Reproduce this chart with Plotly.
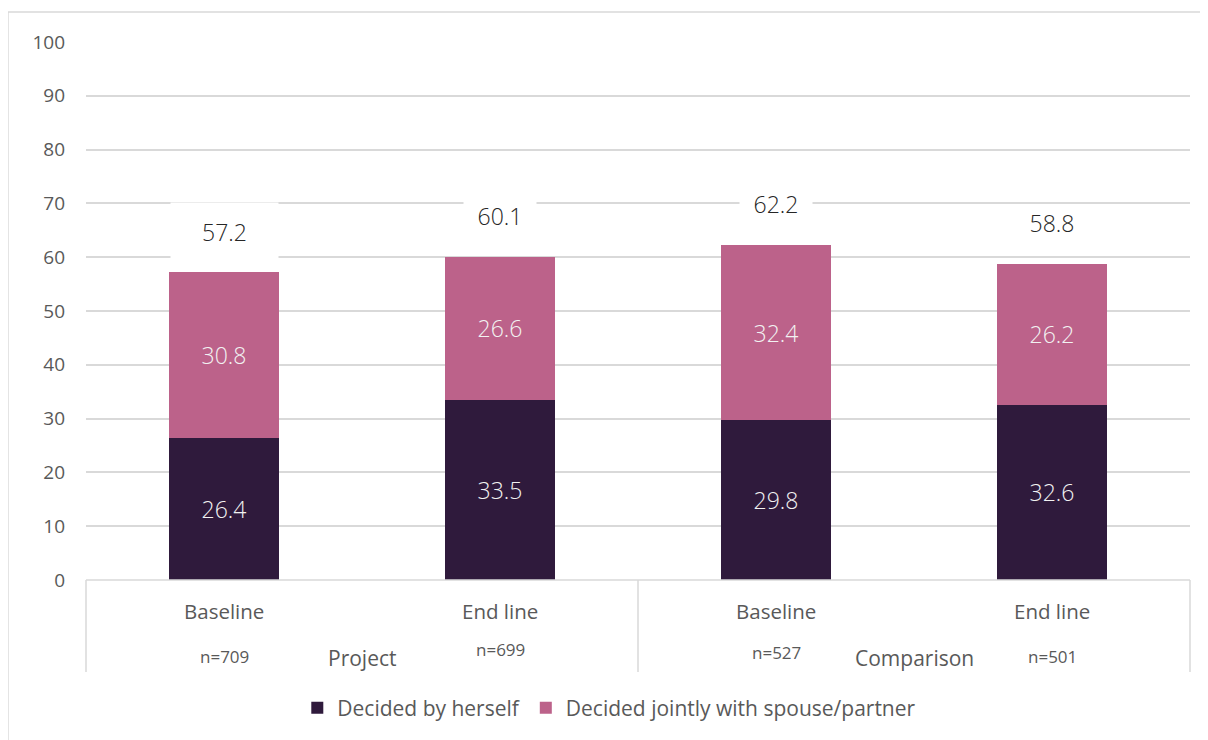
import plotly.graph_objects as go

# ---- data ----
groups = ["Project", "Comparison"]
categories = ["Baseline", "End line", "Baseline", "End line"]
n_labels = ["n=709", "n=699", "n=527", "n=501"]
decided_herself = [26.4, 33.5, 29.8, 32.6]
decided_jointly = [30.8, 26.6, 32.4, 26.2]
totals = [57.2, 60.1, 62.2, 58.8]
y_ticks = [0, 10, 20, 30, 40, 50, 60, 70, 80, 90, 100]

DARK = "#2F1A3C"
PINK = "#BC628A"
GRID = "#D9D9D9"
TXT = "#595959"
FONT = "Open Sans"

xpos = list(range(len(categories)))

fig = go.Figure()
fig.add_trace(go.Bar(
    x=xpos, y=decided_herself, name="Decided by herself",
    marker=dict(color=DARK, line=dict(width=0)),
    text=[f"{v:.1f}" for v in decided_herself], textposition="inside",
    insidetextanchor="middle",
    textfont=dict(family=FONT, size=23, color="#F2F2F2", weight=300),
    hoverinfo="skip",
))
fig.add_trace(go.Bar(
    x=xpos, y=decided_jointly, name="Decided jointly with spouse/partner",
    marker=dict(color=PINK, line=dict(width=0)),
    text=[f"{v:.1f}" for v in decided_jointly], textposition="inside",
    insidetextanchor="middle",
    textfont=dict(family=FONT, size=23, color="#F2F2F2", weight=300),
    hoverinfo="skip",
))

annotations = []
# totals above bars with white boxes
box_w = [105, 70, 70, 70]
box_h = [55, 30, 30, 30]
for i, t in enumerate(totals):
    annotations.append(dict(
        x=xpos[i], y=t, xref="x", yref="y", text=f"{t:.1f}", showarrow=False,
        yshift=41, font=dict(family=FONT, size=23, color="#262626", weight=300),
        bgcolor="white", width=box_w[i], height=box_h[i],
    ))
# category labels
n_y = [-0.1413, -0.130, -0.134, -0.1413]
for i, c in enumerate(categories):
    annotations.append(dict(
        x=xpos[i], y=-0.0576, xref="x", yref="paper", text=c, showarrow=False,
        yanchor="middle", font=dict(family=FONT, size=20.5, color=TXT),
    ))
    annotations.append(dict(
        x=xpos[i], y=n_y[i], xref="x", yref="paper", text=n_labels[i], showarrow=False,
        yanchor="middle", font=dict(family=FONT, size=17, color=TXT),
    ))
for g, gi in enumerate(groups):
    annotations.append(dict(
        x=(xpos[2 * g] + xpos[2 * g + 1]) / 2, y=-0.145, xref="x", yref="paper",
        text=gi, showarrow=False, yanchor="middle",
        font=dict(family=FONT, size=21, color=TXT),
    ))

shapes = [
    # outer chart frame
    dict(type="rect", xref="paper", yref="paper", x0=-0.0707, x1=1.2, y0=-0.5, y1=1.0558,
         line=dict(color=GRID, width=1.5), layer="below"),
    # axis baseline
    dict(type="line", xref="paper", yref="paper", x0=0, x1=1, y0=0, y1=0,
         line=dict(color=GRID, width=1.5)),
]
for xp in [0, 0.5, 1]:
    shapes.append(dict(type="line", xref="paper", yref="paper", x0=xp, x1=xp, y0=0, y1=-0.171,
                       line=dict(color=GRID, width=1.5)))

fig.update_layout(
    width=1208, height=740,
    margin=dict(l=78, r=26, t=34, b=168),
    paper_bgcolor="white", plot_bgcolor="white",
    barmode="stack", bargap=0.6,
    font=dict(family=FONT, color=TXT),
    xaxis=dict(range=[-0.5, 3.5], showticklabels=False, showgrid=False, zeroline=False,
               fixedrange=True),
    yaxis=dict(range=[0, 100], tickvals=y_ticks, showgrid=True, gridcolor=GRID, gridwidth=1.5,
               zeroline=False, tickfont=dict(family=FONT, size=19, color=TXT),
               ticklabelstandoff=20, fixedrange=True),
    legend=dict(orientation="h", x=0.474, xanchor="center", y=-0.238, yanchor="middle",
                font=dict(family=FONT, size=21, color=TXT), traceorder="normal"),
    annotations=annotations, shapes=shapes,
    showlegend=True,
)

fig.write_html("out.html")
